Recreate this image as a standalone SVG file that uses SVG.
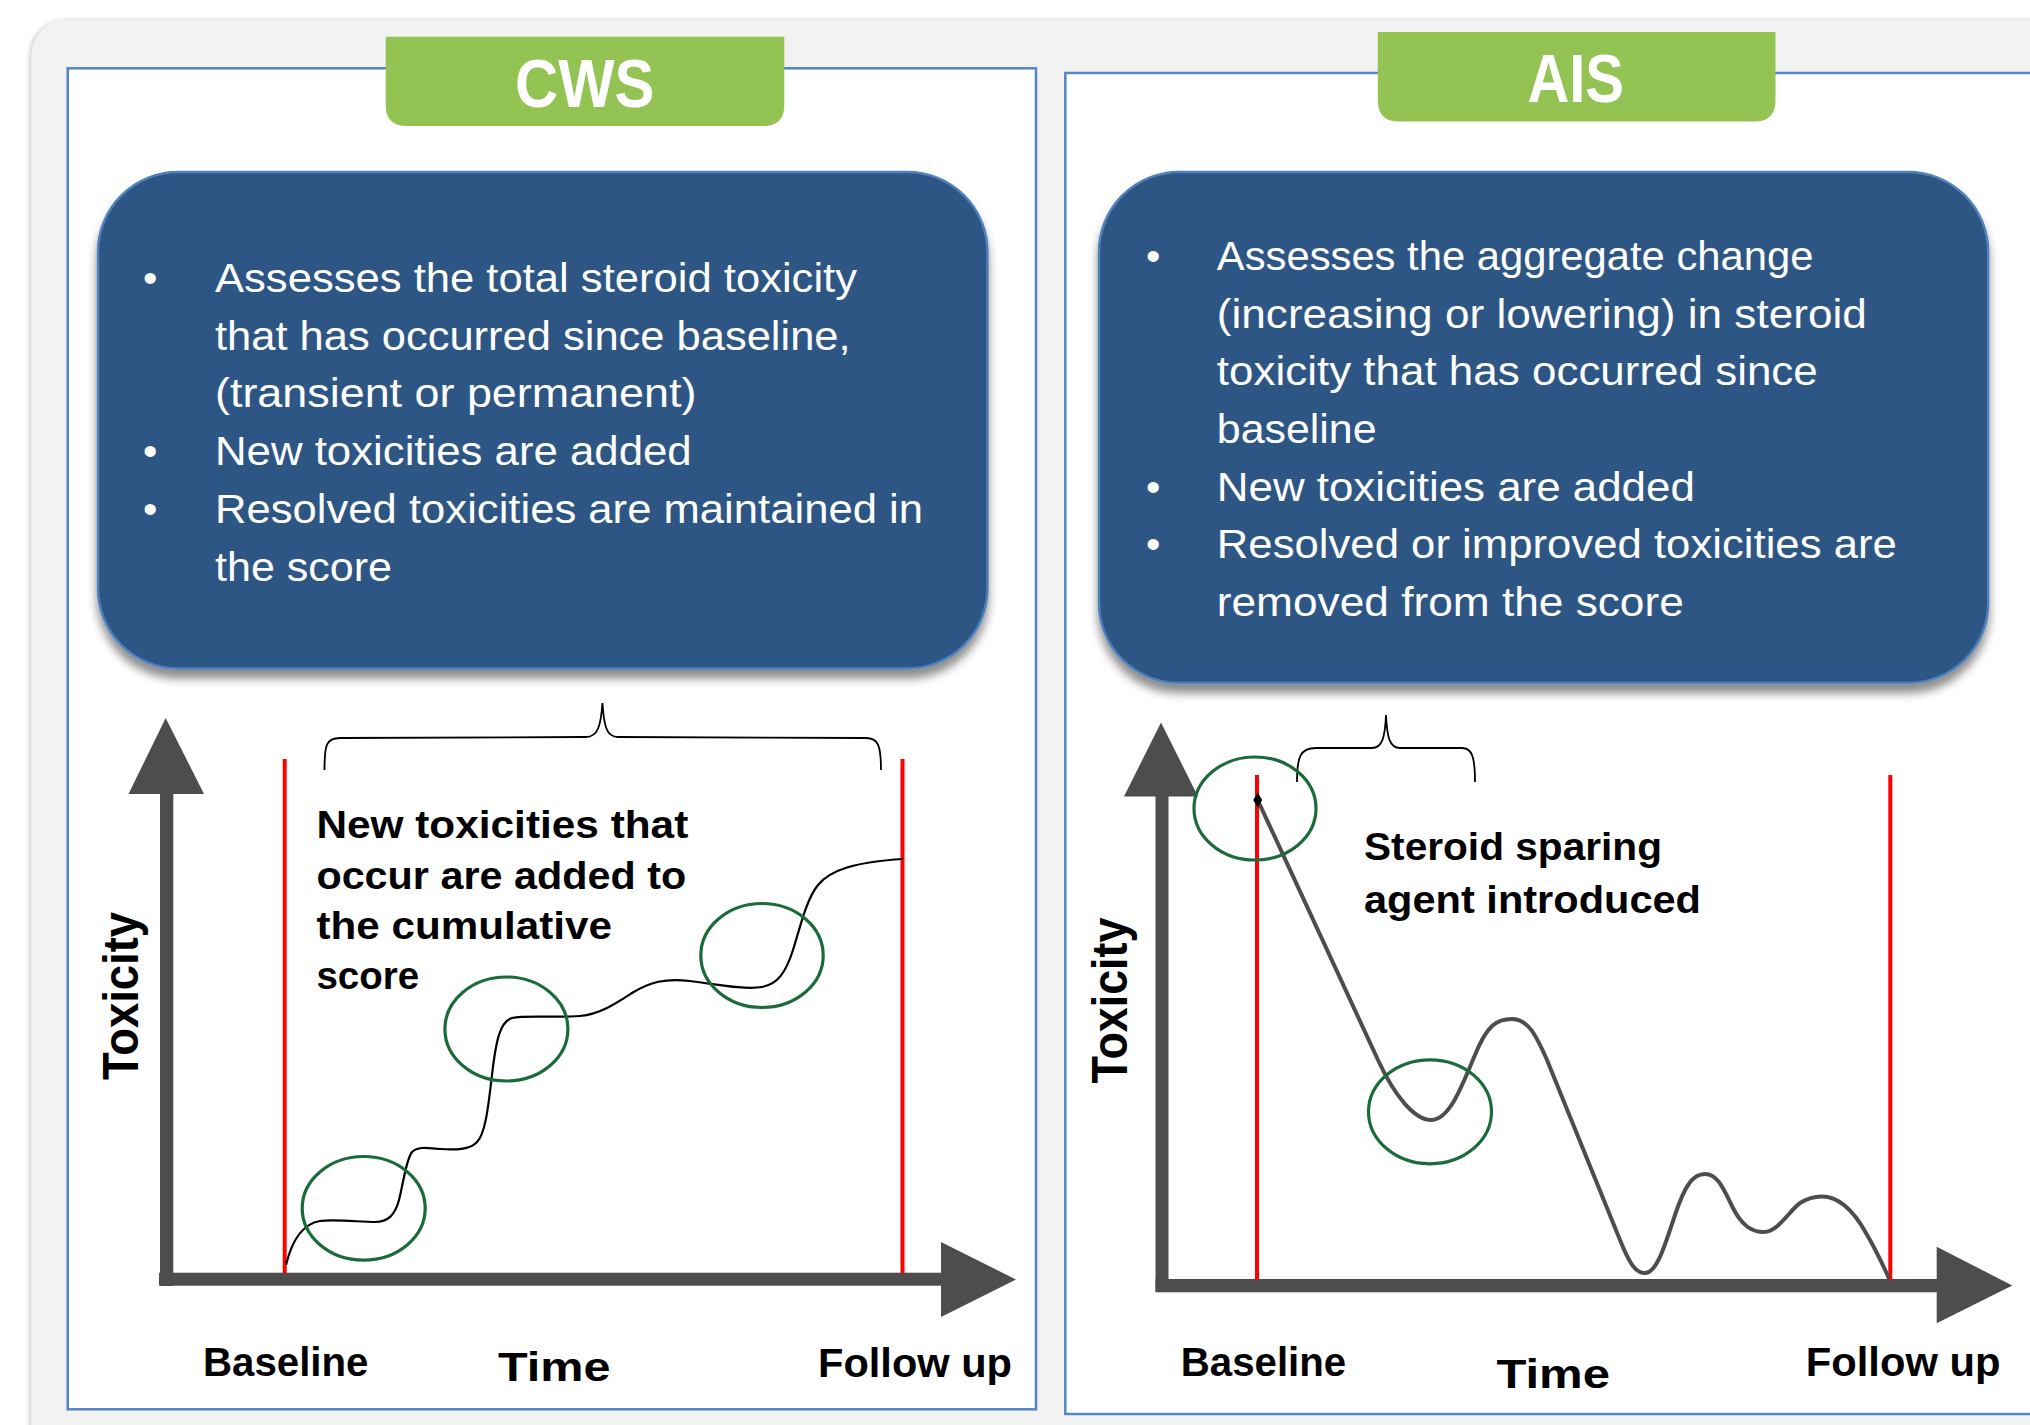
<svg xmlns="http://www.w3.org/2000/svg" width="2030" height="1425" viewBox="0 0 2030 1425">
<defs>
<style>
.panel{fill:#ffffff;stroke:#5585c5;stroke-width:2.5}
.tab{fill:#92C353}
.tabtxt{font-family:"Liberation Sans",Arial,sans-serif;font-weight:bold;font-size:68px;fill:#ffffff}
.box{fill:#2E5785;stroke:#4F81BD;stroke-width:2.5}
.btxt{font-family:"Liberation Sans",Arial,sans-serif;font-size:41px;fill:#ffffff}
.axis{fill:#4D4D4D}
.red{stroke:#ff0000;stroke-width:4;fill:none}
.ring{fill:none;stroke:#1B6B3A;stroke-width:3.2}
.brace{fill:none;stroke:#000000;stroke-width:1.8}
.lbl{font-family:"Liberation Sans",Arial,sans-serif;font-weight:bold;font-size:40px;fill:#000000}
.note{font-family:"Liberation Sans",Arial,sans-serif;font-weight:bold;font-size:39px;fill:#000000}
.ylab{font-family:"Liberation Sans",Arial,sans-serif;font-weight:bold;font-size:50px;fill:#000000}
</style>
<filter id="shadow" x="-10%" y="-10%" width="120%" height="130%">
<feDropShadow dx="0" dy="9" stdDeviation="5" flood-color="#000000" flood-opacity="0.45"/>
</filter>
<filter id="bgshadow" x="-5%" y="-5%" width="110%" height="110%">
<feDropShadow dx="-2" dy="0" stdDeviation="2" flood-color="#000000" flood-opacity="0.2"/>
</filter>
</defs>
<rect x="0" y="0" width="2030" height="1425" fill="#ffffff"/>
<rect x="31.5" y="20" width="2100" height="1500" rx="36" fill="#F2F2F2" filter="url(#bgshadow)"/>

<g id="cws-panel">
<rect class="panel" x="67.7" y="68.3" width="968.3" height="1341"/>
</g>
<g id="ais-panel">
<rect class="panel" x="1065.3" y="73" width="1000" height="1341"/>
</g>

<g id="cws-tab">
<path class="tab" d="M385.7,36.7 H784.3 V105 Q784.3,126 763.3,126 H406.7 Q385.7,126 385.7,105 Z"/>
<text class="tabtxt" x="515" y="107" textLength="139.5" lengthAdjust="spacingAndGlyphs">CWS</text>
</g>
<g id="ais-tab">
<path class="tab" d="M1377.8,32 H1775.5 V100.4 Q1775.5,121.4 1754.5,121.4 H1398.8 Q1377.8,121.4 1377.8,100.4 Z"/>
<text class="tabtxt" x="1527.4" y="101.8" textLength="96.6" lengthAdjust="spacingAndGlyphs">AIS</text>
</g>

<g id="cws-box">
<rect class="box" x="98" y="172" width="889.5" height="496.5" rx="80" ry="80" filter="url(#shadow)"/>
<text class="btxt" x="143" y="292.4">•</text>
<text class="btxt" x="215" y="292.4" textLength="642" lengthAdjust="spacingAndGlyphs">Assesses the total steroid toxicity</text>
<text class="btxt" x="215" y="349.5" textLength="635.6" lengthAdjust="spacingAndGlyphs">that has occurred since baseline,</text>
<text class="btxt" x="215" y="407" textLength="481.4" lengthAdjust="spacingAndGlyphs">(transient or permanent)</text>
<text class="btxt" x="143" y="465">•</text>
<text class="btxt" x="215" y="465" textLength="476.7" lengthAdjust="spacingAndGlyphs">New toxicities are added</text>
<text class="btxt" x="143" y="522.5">•</text>
<text class="btxt" x="215" y="522.5" textLength="708" lengthAdjust="spacingAndGlyphs">Resolved toxicities are maintained in</text>
<text class="btxt" x="215" y="580.5" textLength="177" lengthAdjust="spacingAndGlyphs">the score</text>
</g>

<g id="ais-box">
<rect class="box" x="1099" y="172" width="889.2" height="511" rx="80" ry="80" filter="url(#shadow)"/>
<text class="btxt" x="1146" y="270">•</text>
<text class="btxt" x="1216.8" y="270" textLength="596.6" lengthAdjust="spacingAndGlyphs">Assesses the aggregate change</text>
<text class="btxt" x="1216.8" y="327.5" textLength="650" lengthAdjust="spacingAndGlyphs">(increasing or lowering) in steroid</text>
<text class="btxt" x="1216.8" y="385" textLength="601" lengthAdjust="spacingAndGlyphs">toxicity that has occurred since</text>
<text class="btxt" x="1216.8" y="442.5" textLength="159.7" lengthAdjust="spacingAndGlyphs">baseline</text>
<text class="btxt" x="1146" y="501">•</text>
<text class="btxt" x="1216.8" y="501" textLength="478" lengthAdjust="spacingAndGlyphs">New toxicities are added</text>
<text class="btxt" x="1146" y="558">•</text>
<text class="btxt" x="1216.8" y="558" textLength="680" lengthAdjust="spacingAndGlyphs">Resolved or improved toxicities are</text>
<text class="btxt" x="1216.8" y="615.5" textLength="467" lengthAdjust="spacingAndGlyphs">removed from the score</text>
</g>

<g id="cws-chart">
<g id="cws-axes">
<rect class="axis" x="160" y="790" width="13.3" height="496"/>
<polygon class="axis" points="165.7,718 204,794 128.5,794"/>
<rect class="axis" x="159" y="1272.7" width="784" height="13"/>
<polygon class="axis" points="941,1242 1016,1279.5 941,1317"/>
</g>
<line class="red" x1="284.7" y1="759" x2="284.7" y2="1273"/>
<line class="red" x1="902.5" y1="759" x2="902.5" y2="1273"/>
<path class="brace" d="M324.5,770 C324.5,745 326,738 340,738 L586,737 C598,737 601,725 602.4,703 C604,725 606,737 618,737 L866,738 C878,738 881,745 881,770"/>
<path d="M286,1265 C292,1240 302,1224 320,1221 C335,1219 360,1222 375,1222 C388,1222 395,1215 399,1200 C404,1180 406,1160 412,1152 C418,1146 428,1148 440,1149 C455,1150 470,1150 477,1142 C485,1134 488,1110 492,1075 C496,1040 500,1022 512,1018 C525,1015 560,1018 580,1016 C600,1014 615,1004 632,993 C650,982 665,978 690,981 C715,984 745,990 762,987 C778,984 786,972 793,950 C800,928 806,900 818,885 C830,870 855,862 903,859" fill="none" stroke="#000000" stroke-width="2.2"/>
<ellipse class="ring" cx="363.7" cy="1208.3" rx="61.5" ry="51.8"/>
<ellipse class="ring" cx="506.4" cy="1029" rx="61.5" ry="52"/>
<ellipse class="ring" cx="762" cy="955.5" rx="61.2" ry="52"/>
<text class="note" x="316.4" y="838.2" textLength="371.9" lengthAdjust="spacingAndGlyphs">New toxicities that</text>
<text class="note" x="316.4" y="889" textLength="369.8" lengthAdjust="spacingAndGlyphs">occur are added to</text>
<text class="note" x="316.4" y="939" textLength="295.5" lengthAdjust="spacingAndGlyphs">the cumulative</text>
<text class="note" x="316.4" y="988.8" textLength="102.8" lengthAdjust="spacingAndGlyphs">score</text>
<text class="ylab" transform="translate(138.3,996) rotate(-90)" x="0" y="0" text-anchor="middle" textLength="168" lengthAdjust="spacingAndGlyphs">Toxicity</text>
<text class="lbl" x="203" y="1376" textLength="165.5" lengthAdjust="spacingAndGlyphs">Baseline</text>
<text class="lbl" x="498" y="1381" font-size="46" textLength="112.5" lengthAdjust="spacingAndGlyphs">Time</text>
<text class="lbl" x="818" y="1377" textLength="194" lengthAdjust="spacingAndGlyphs">Follow up</text>
</g>

<g id="ais-chart">
<g id="ais-axes">
<rect class="axis" x="1155.5" y="792" width="13" height="499"/>
<polygon class="axis" points="1161,722.5 1198,796.5 1124,796.5"/>
<rect class="axis" x="1155.5" y="1279" width="783" height="13.3"/>
<polygon class="axis" points="1936.7,1246.7 2012.3,1285.5 1936.7,1323.3"/>
</g>
<line class="red" x1="1257" y1="775" x2="1257" y2="1280"/>
<line class="red" x1="1890.3" y1="775" x2="1890.3" y2="1280"/>
<path class="brace" d="M1297,782 C1297,757 1300,748 1316,748 L1372,748 C1382,748 1385,738 1386,715 C1387,738 1390,748 1400,748 L1462,748 C1472,748 1475,757 1475,782"/>
<path d="M1257.7,800 L1378,1060 C1395,1097 1415,1120 1431,1120 C1450,1120 1462,1085 1475,1055 C1487,1025 1497,1019 1512,1019 C1528,1019 1536,1035 1547,1060 L1620,1240 C1630,1265 1636,1273 1645,1273 C1657,1273 1665,1245 1675,1215 C1685,1185 1693,1174 1705,1174 C1718,1174 1724,1190 1733,1208 C1742,1226 1752,1232 1764,1232 C1778,1232 1790,1210 1800,1203 C1808,1198 1814,1196.5 1821.7,1196.5 C1842,1196.5 1856,1215 1866,1233 C1876,1250 1883,1265 1889.3,1279" fill="none" stroke="#4D4D4D" stroke-width="4" stroke-linejoin="round"/>
<polygon points="1257.7,792.5 1262.2,800 1257.7,807.5 1253.2,800" fill="#000000"/>
<ellipse class="ring" cx="1255" cy="808.5" rx="61" ry="51.5"/>
<ellipse class="ring" cx="1430" cy="1111.8" rx="61.5" ry="52"/>
<text class="note" x="1364" y="859.6" textLength="298" lengthAdjust="spacingAndGlyphs">Steroid sparing</text>
<text class="note" x="1364" y="912.5" textLength="337" lengthAdjust="spacingAndGlyphs">agent introduced</text>
<text class="ylab" transform="translate(1127,1000.6) rotate(-90)" x="0" y="0" text-anchor="middle" textLength="166" lengthAdjust="spacingAndGlyphs">Toxicity</text>
<text class="lbl" x="1180.8" y="1376" textLength="165.4" lengthAdjust="spacingAndGlyphs">Baseline</text>
<text class="lbl" x="1496.4" y="1388" font-size="46" textLength="113.6" lengthAdjust="spacingAndGlyphs">Time</text>
<text class="lbl" x="1805.8" y="1376" textLength="194.7" lengthAdjust="spacingAndGlyphs">Follow up</text>
</g>
<g id="connectors"></g>
</svg>
